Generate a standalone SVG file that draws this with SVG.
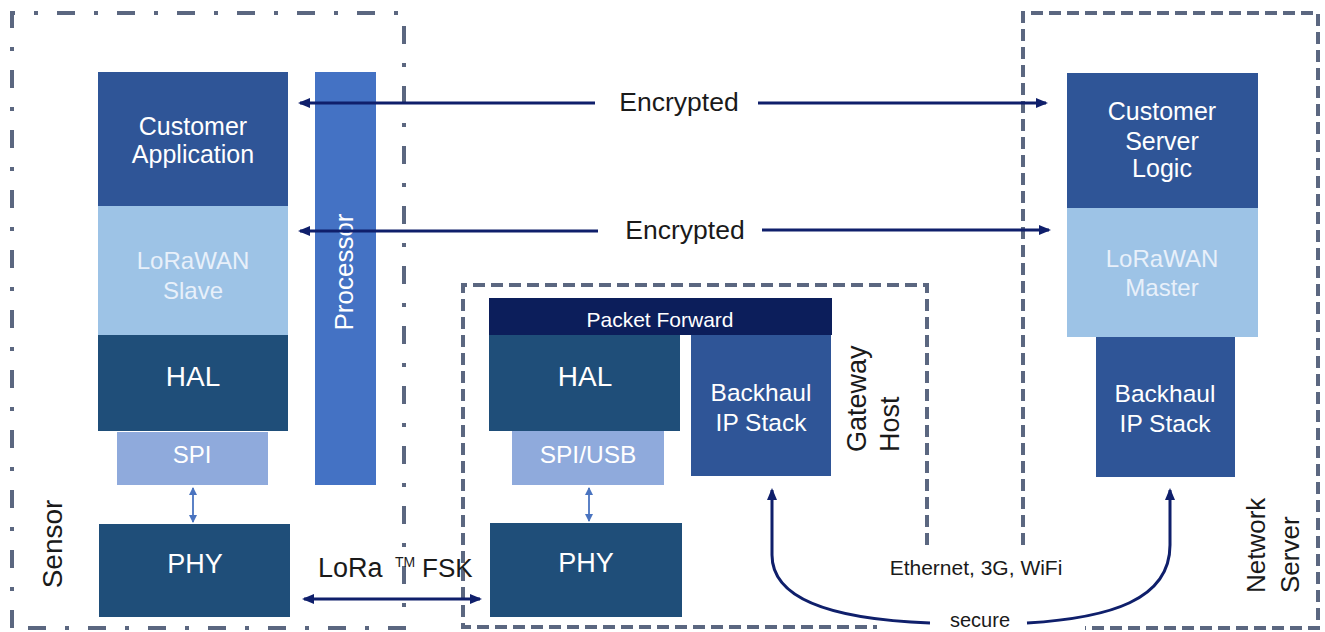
<svg xmlns="http://www.w3.org/2000/svg" width="1325" height="632" viewBox="0 0 1325 632">
<style>
text{font-family:"Liberation Sans",Arial,sans-serif}
.w{fill:#ffffff;text-anchor:middle}
.lw{fill:#e8f0fa;text-anchor:middle}
.k{fill:#1a1a1a}
.mid{text-anchor:middle}
.app{fill:#2f5597}
.lora{fill:#9dc3e6}
.hal{fill:#1f4e79}
.spi{fill:#8faadc}
.proc{fill:#4472c4}
.pf{fill:#0c1e5b}
.dash{fill:none;stroke:#5b6780;stroke-width:4;stroke-dasharray:12 6}
.dashdot{fill:none;stroke:#5b6780;stroke-width:4;stroke-dasharray:18 19 4 19}
.big{fill:none;stroke:#0f1f6b;stroke-width:3}
.small{fill:none;stroke:#4a74c0;stroke-width:1.8}
</style>
<defs>
<marker id="ah" viewBox="0 0 12 10" refX="10" refY="5" markerWidth="12" markerHeight="10" markerUnits="userSpaceOnUse" orient="auto-start-reverse">
<path d="M0,0 L12,5 L0,10 z" fill="#0f1f6b"/>
</marker>
<marker id="as" viewBox="0 0 8 8" refX="7" refY="4" markerWidth="8" markerHeight="8" markerUnits="userSpaceOnUse" orient="auto-start-reverse">
<path d="M0,0 L8,4 L0,8 z" fill="#4a74c0"/>
</marker>
</defs>
<rect width="1325" height="632" fill="#ffffff"/>

<g id="boundaries">
<path class="dashdot" d="M12,628 V13 H404 V628 H12"/>
<path class="dash" d="M927,545 V285 H463 V627 H877"/>
<path class="dash" d="M1023,545 V13 H1318 V628 H1085"/>
</g>

<g id="sensor">
<g id="customer-application">
<rect class="app" x="98" y="72" width="190" height="134"/>
<text class="w" x="193" y="135" font-size="25">Customer</text>
<text class="w" x="193" y="163" font-size="25">Application</text>
</g>
<g id="lorawan-slave">
<rect class="lora" x="98" y="206" width="190" height="129"/>
<text class="lw" x="193" y="269" font-size="24">LoRaWAN</text>
<text class="lw" x="193" y="299" font-size="24">Slave</text>
</g>
<g id="sensor-hal">
<rect class="hal" x="98" y="335" width="190" height="96"/>
<text class="w" x="193" y="386" font-size="28">HAL</text>
</g>
<g id="sensor-spi">
<rect class="spi" x="117" y="432" width="151" height="53"/>
<text class="w" x="192" y="463" font-size="24">SPI</text>
</g>
<g id="sensor-phy">
<rect class="hal" x="99" y="524" width="191" height="93"/>
<text class="w" x="195" y="573" font-size="27">PHY</text>
</g>
<g id="processor">
<rect class="proc" x="315" y="72" width="61" height="413"/>
<text class="w" transform="translate(353,272) rotate(-90)" font-size="26">Processor</text>
</g>
<g id="sensor-label">
<text class="k mid" transform="translate(62,544) rotate(-90)" font-size="28">Sensor</text>
</g>
</g>

<g id="gateway">
<g id="packet-forward">
<rect class="pf" x="489" y="298" width="343" height="37"/>
<text class="w" x="660" y="327" font-size="21">Packet Forward</text>
</g>
<g id="gateway-hal">
<rect class="hal" x="489" y="335" width="191" height="96"/>
<text class="w" x="585" y="386" font-size="28">HAL</text>
</g>
<g id="gateway-backhaul">
<rect class="app" x="691" y="335" width="140" height="141"/>
<text class="w" x="761" y="401" font-size="24.5">Backhaul</text>
<text class="w" x="761" y="431" font-size="24.5">IP Stack</text>
</g>
<g id="gateway-spiusb">
<rect class="spi" x="512" y="431" width="152" height="54"/>
<text class="w" x="588" y="463" font-size="24.5">SPI/USB</text>
</g>
<g id="gateway-phy">
<rect class="hal" x="490" y="523" width="192" height="94"/>
<text class="w" x="586" y="572" font-size="27">PHY</text>
</g>
<g id="gateway-label">
<text class="k" transform="translate(866,452) rotate(-90)" font-size="27">Gateway</text>
<text class="k" transform="translate(899,452) rotate(-90)" font-size="27">Host</text>
</g>
</g>

<g id="network-server">
<g id="customer-server-logic">
<rect class="app" x="1067" y="73" width="191" height="135"/>
<text class="w" x="1162" y="120" font-size="25">Customer</text>
<text class="w" x="1162" y="150" font-size="25">Server</text>
<text class="w" x="1162" y="177" font-size="25">Logic</text>
</g>
<g id="lorawan-master">
<rect class="lora" x="1067" y="208" width="191" height="129"/>
<text class="lw" x="1162" y="267" font-size="24">LoRaWAN</text>
<text class="lw" x="1162" y="296" font-size="24">Master</text>
</g>
<g id="server-backhaul">
<rect class="app" x="1096" y="337" width="139" height="140"/>
<text class="w" x="1165" y="402" font-size="24.5">Backhaul</text>
<text class="w" x="1165" y="432" font-size="24.5">IP Stack</text>
</g>
<g id="server-label">
<text class="k" transform="translate(1265,593) rotate(-90)" font-size="26">Network</text>
<text class="k" transform="translate(1299,593) rotate(-90)" font-size="26">Server</text>
</g>
</g>

<g id="connectors">
<line class="big" x1="595" y1="103" x2="300" y2="103" marker-end="url(#ah)"/>
<line class="big" x1="758" y1="103" x2="1046" y2="103" marker-end="url(#ah)"/>
<text class="k mid" x="679" y="111" font-size="26.5">Encrypted</text>
<line class="big" x1="598" y1="231" x2="300" y2="231" marker-end="url(#ah)"/>
<line class="big" x1="762" y1="230" x2="1049" y2="230" marker-end="url(#ah)"/>
<text class="k mid" x="685" y="239" font-size="26.5">Encrypted</text>
<line class="small" x1="193" y1="488" x2="193" y2="522" marker-start="url(#as)" marker-end="url(#as)"/>
<line class="small" x1="589" y1="488" x2="589" y2="521" marker-start="url(#as)" marker-end="url(#as)"/>
<line class="big" x1="304" y1="599" x2="480" y2="599" marker-start="url(#ah)" marker-end="url(#ah)"/>
<text class="k" x="318" y="577" font-size="27">LoRa</text>
<text class="k" x="395" y="567" font-size="14">TM</text>
<text class="k" x="422" y="577" font-size="26">FSK</text>
<path class="big" d="M930,623 C850,620 772,605 772,555 L772,490" marker-end="url(#ah)"/>
<path class="big" d="M1027,623 C1110,618 1170,600 1170,545 L1170,490" marker-end="url(#ah)"/>
<text class="k mid" x="976" y="575" font-size="21">Ethernet, 3G, WiFi</text>
<text class="k mid" x="980" y="627" font-size="20">secure</text>
</g>
</svg>
